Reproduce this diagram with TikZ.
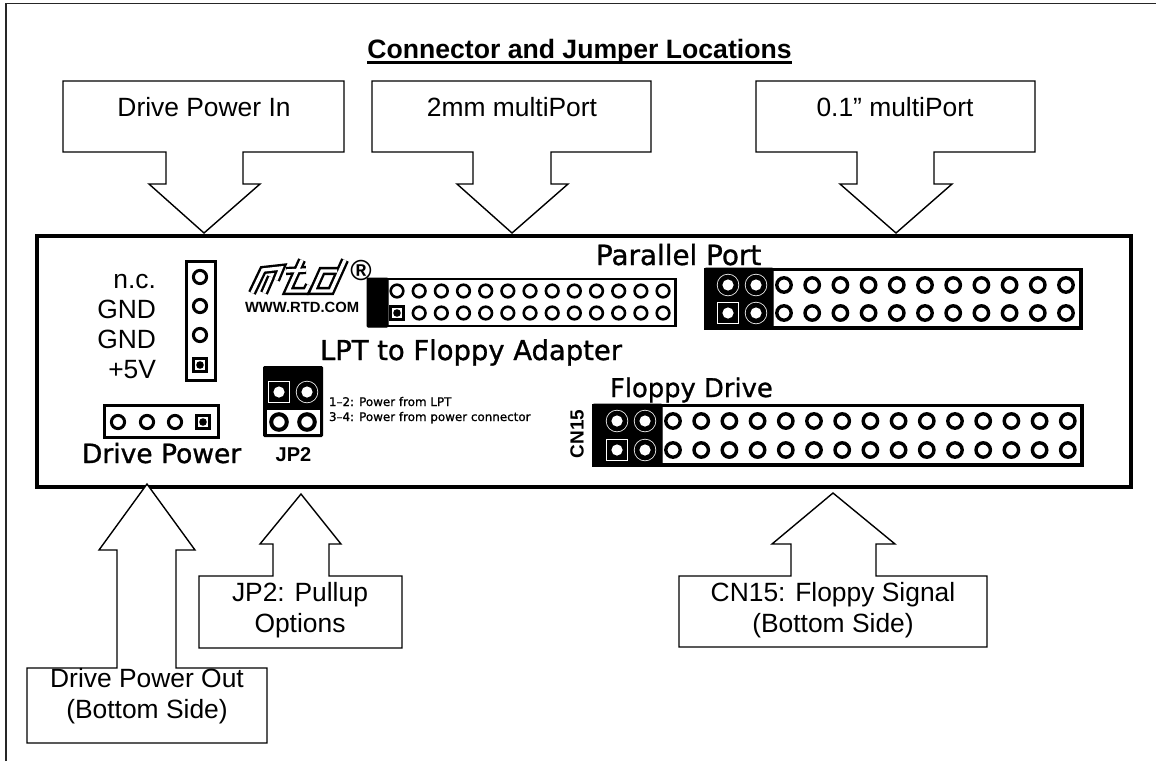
\documentclass[tikz,border=0pt]{standalone}
\usepackage{fontspec}
\setmainfont{Liberation Sans}
\newfontfamily\pcbfont[FakeBold=1.1]{DejaVu Sans}
\newfontfamily\pcbtiny[FakeBold=1.0]{DejaVu Sans}
\newcommand{\lab}{\fontsize{26.4}{30.5}\selectfont}
\tikzset{
  callout/.style={draw=black,line width=1.4pt,fill=white,line join=miter},
  frameline/.style={draw=black!85,line width=1.6pt},
  board/.style={draw=black,line width=4pt},
  txt/.style={inner sep=0pt,outer sep=0pt,font=\lab},
  pcb/.style={inner sep=0pt,outer sep=0pt},
  header/.style={draw=black,line width=3pt,fill=white},
  blackpart/.style={fill=black,draw=black,line width=1pt,rounded corners=1pt},
  ringpin/.style={draw=black,line width=3pt,fill=white,circle,minimum size=13.2pt,inner sep=0pt},
  bigring/.style={draw=black,line width=3.4pt,fill=white,circle,minimum size=14.4pt,inner sep=0pt},
  jpring/.style={draw=black,line width=4pt,fill=white,circle,minimum size=15.6pt,inner sep=0pt},
  smallring/.style={draw=black,line width=2.6pt,fill=white,circle,minimum size=12.6pt,inner sep=0pt},
  squarepin/.style={draw=black,line width=3pt,fill=white,minimum size=12.5pt,inner sep=0pt},
  logoout/.style={draw=black,line width=8.2pt,line join=miter,line cap=butt},
  logoin/.style={draw=white,line width=3.4pt,line join=miter,line cap=butt},
}
% pads on a black field
\newcommand{\roundpad}[2]{%
  \fill[white] (#1,#2) circle (11.2);
  \fill[black] (#1,#2) circle (10.4);
  \fill[white] (#1,#2) circle (5.6);}
\newcommand{\squarepad}[2]{%
  \fill[white] (#1-11,#2-11) rectangle (#1+11,#2+11);
  \fill[black] (#1-10.2,#2-10.2) rectangle (#1+10.2,#2+10.2);
  \fill[white] (#1,#2) circle (5.6);}
\newcommand{\sqpin}[2]{%
  \node[squarepin] at (#1,#2) {};
  \fill[black] (#1,#2) circle (3.8);}
\begin{document}
\begin{tikzpicture}[x=1pt,y=-1pt]
\useasboundingbox (0,0) rectangle (1156,761);
\fill[white] (0,0) rectangle (1156,761);
% page frame
\draw[frameline] (6,761) -- (6,3.5) -- (1156,3.5);
% title
\node[txt,anchor=base,font=\fontsize{26.6}{30}\selectfont\bfseries] (title) at (579.5,58) {Connector and Jumper Locations};
\draw[line width=2.8pt] ([yshift=-4.5pt]title.base west) -- ([yshift=-4.5pt]title.base east);
% board
\draw[board] (37,236) rectangle (1131,487);
% callouts, top
\draw[callout] (63,81) -- (344,81) -- (344,152) -- (243,152) -- (243,184) -- (260,184) -- (204,233) -- (149,184) -- (166,184) -- (166,152) -- (63,152) -- cycle;
\draw[callout] (372,81) -- (651,81) -- (651,152) -- (551,152) -- (551,184) -- (568,184) -- (512,233) -- (457,184) -- (473,184) -- (473,152) -- (372,152) -- cycle;
\draw[callout] (756,81) -- (1035,81) -- (1035,152) -- (934,152) -- (934,184) -- (952,184) -- (896,233) -- (840,184) -- (857,184) -- (857,152) -- (756,152) -- cycle;
\node[txt,anchor=base] (in) at (204,116) {Drive Power In};
\node[txt,anchor=base] (twomm) at (512,116) {2mm multiPort};
\node[txt,anchor=base] (tenth) at (895,116) {0.1” multiPort};
% callouts, bottom
\draw[callout] (27,668) -- (117,668) -- (117,550) -- (99,550) -- (147,484) -- (195,550) -- (176,550) -- (176,668) -- (267,668) -- (267,743) -- (27,743) -- cycle;
\draw[callout] (199,576) -- (273,576) -- (273,544) -- (260,544) -- (301,494) -- (341,544) -- (329,544) -- (329,576) -- (402,576) -- (402,648) -- (199,648) -- cycle;
\draw[callout] (679,576) -- (791,576) -- (791,544) -- (772,544) -- (833,493) -- (895,544) -- (876,544) -- (876,576) -- (987,576) -- (987,647) -- (679,647) -- cycle;
\node[txt,anchor=center,align=center] (out) at (147,696) {Drive Power Out\\(Bottom Side)};
\node[txt,anchor=center,align=center] (pull) at (300,610) {JP2: Pullup\\Options};
\node[txt,anchor=center,align=center] (floppy) at (833,610) {CN15: Floppy Signal\\(Bottom Side)};
% power pin labels
\node[txt,anchor=base east] (nc) at (156,288) {n.c.};
\node[txt,anchor=base east] (gnda) at (156,318) {GND};
\node[txt,anchor=base east] (gndb) at (156,348) {GND};
\node[txt,anchor=base east] (vcc) at (156,378) {+5V};
% vertical power header
\draw[header] (186,261.5) rectangle (215.5,380.5);
\foreach \y in {277,306,335} \node[ringpin] at (200,\y) {};
\sqpin{200}{365}
% horizontal power header
\draw[header] (104.5,405.5) rectangle (218,437);
\foreach \x in {118,147,175} \node[ringpin] at (\x,422) {};
\sqpin{203}{422}
\node[pcb,anchor=base west,font=\pcbfont\fontsize{26.5}{30}\selectfont] (dp) at (82,463) {Drive Power};
% logo
\foreach \s in {logoout,logoin}{
  \draw[\s] (252,293) -- (263,270) -- (281,268) -- (276,280);
  \draw[\s] (264,293) -- (271,277);
  \draw[\s] (302,260) -- (288,291) -- (306,291) -- (309,285);
  \draw[\s] (286,271) -- (306,270);
  \draw[\s] (345,260) -- (331,291) -- (313,291) -- (322,271) -- (337,271);
}
\node[pcb,anchor=center,font=\fontsize{29}{30}\selectfont\bfseries] (reg) at (361,270) {®};
\node[pcb,anchor=base west,font=\fontsize{14.8}{16}\selectfont\bfseries] (www) at (245,312) {WWW.RTD.COM};
% 2mm header
\draw[header,line width=2.8pt] (368,279) rectangle (675.5,326);
\fill[blackpart] (367,278) rectangle (388,327);
\foreach \i in {0,...,12}{
  \pgfmathsetmacro{\px}{397+22.17*\i}
  \node[smallring] at (\px,291) {};
  \ifnum\i>0 \node[smallring] at (\px,313) {};\fi
}
\sqpin{397}{313}
% parallel port header
\draw[header,line width=3.2pt] (706,269.5) rectangle (1081,328);
\fill[blackpart] (705,268) rectangle (773,329);
\roundpad{728}{285}
\roundpad{756}{285}
\squarepad{728}{313}
\roundpad{756}{313}
\foreach \i in {0,...,10}{
  \pgfmathsetmacro{\px}{784+28.2*\i}
  \node[bigring] at (\px,285) {};
  \node[bigring] at (\px,313) {};
}
\node[pcb,anchor=base west,font=\pcbfont\fontsize{27.8}{30}\selectfont] (pp) at (596,265) {Parallel Port};
% floppy header
\draw[header,line width=3.2pt] (594,405.5) rectangle (1082,465);
\fill[blackpart] (593,404) rectangle (662,466);
\roundpad{617}{421}
\roundpad{645}{421}
\squarepad{617}{450}
\roundpad{645}{450}
\foreach \i in {0,...,14}{
  \pgfmathsetmacro{\px}{673+28.2*\i}
  \node[bigring] at (\px,421) {};
  \node[bigring] at (\px,450) {};
}
\node[pcb,anchor=base west,font=\pcbfont\fontsize{25.8}{30}\selectfont] (fd) at (610,397) {Floppy Drive};
\node[pcb,anchor=base west,font=\pcbfont\fontsize{27.4}{30}\selectfont] (lpt) at (320,360) {LPT to Floppy Adapter};
\node[pcb,anchor=center,rotate=90,font=\fontsize{19}{20}\selectfont\bfseries] (cn) at (577,434) {CN15};
% JP2
\fill[blackpart] (263.5,366.5) rectangle (322.5,436.5);
\fill[white] (266.5,410) rectangle (320,434);
\squarepad{279}{392}
\roundpad{307}{392}
\node[jpring] at (279,422) {};
\node[jpring] at (307,422) {};
\node[pcb,anchor=base,font=\fontsize{20}{21}\selectfont\bfseries] (jp) at (293.5,461) {JP2};
\node[pcb,anchor=base west,font=\pcbtiny\fontsize{11.9}{13}\selectfont] (p12) at (329,406) {1–2: Power from LPT};
\node[pcb,anchor=base west,font=\pcbtiny\fontsize{11.9}{13}\selectfont] (p34) at (329,421) {3–4: Power from power connector};
\end{tikzpicture}
\end{document}
